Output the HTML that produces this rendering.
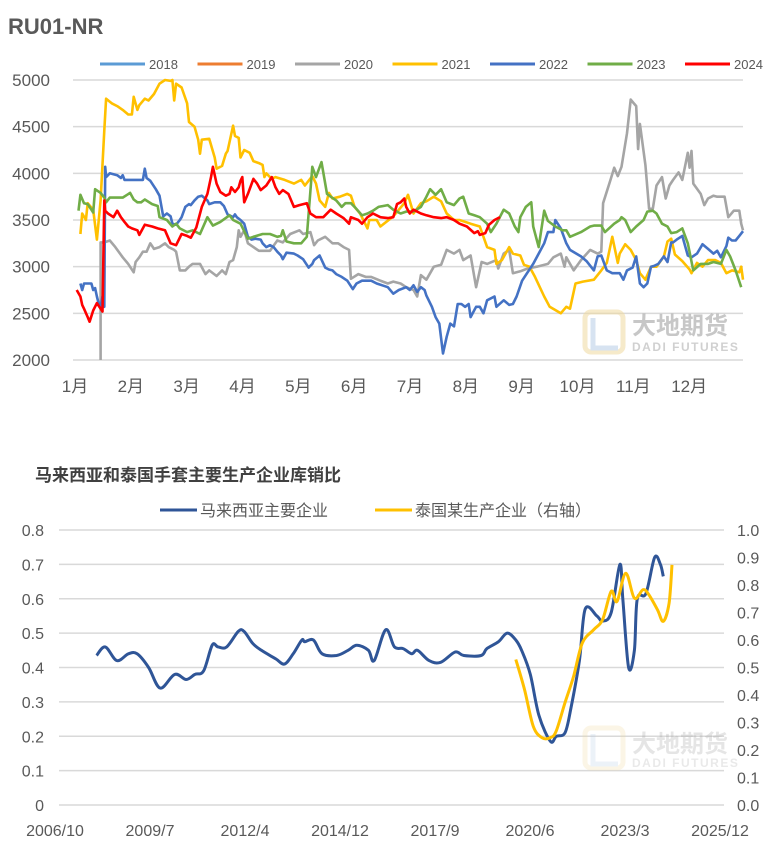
<!DOCTYPE html>
<html><head><meta charset="utf-8">
<style>
html,body{margin:0;padding:0;background:#fff;}
body{width:767px;height:852px;overflow:hidden;font-family:"Liberation Sans","Noto Sans CJK SC",sans-serif;}
svg text{font-family:"Liberation Sans","Noto Sans CJK SC",sans-serif;}
</style></head>
<body>
<svg id="c" width="767" height="852" viewBox="0 0 767 852" xmlns="http://www.w3.org/2000/svg">
<text x="8" y="34" font-size="22" font-weight="bold" fill="#595959">RU01-NR</text>
<g id="topGrid"></g>
<g id="topYAxis"></g>
<g id="topXAxis"></g>
<g id="wm1" opacity="0.55">
  <rect x="585" y="312" width="38" height="40" rx="6" fill="none" stroke="#f0d9a0" stroke-width="5"/>
  <path d="M593 318 L593 348 L618 348" fill="none" stroke="#b8cde6" stroke-width="5"/>
  <text x="632" y="334" font-size="24" font-weight="bold" fill="#9a9a9a">大地期货</text>
  <text x="632" y="351" font-size="12" font-weight="bold" fill="#aaaaaa" letter-spacing="1.5">DADI FUTURES</text>
</g>
<g id="topSeries"></g>
<g id="topLegend"></g>

<text x="35" y="481" font-size="17" font-weight="bold" fill="#404040">马来西亚和泰国手套主要生产企业库销比</text>
<g id="botGrid"></g>
<g id="botAxes"></g>
<g id="wm2" opacity="0.25">
  <rect x="585" y="728" width="38" height="40" rx="6" fill="none" stroke="#f0d9a0" stroke-width="5"/>
  <path d="M593 734 L593 764 L618 764" fill="none" stroke="#b8cde6" stroke-width="5"/>
  <text x="632" y="752" font-size="24" font-weight="bold" fill="#9a9a9a">大地期货</text>
  <text x="632" y="767" font-size="12" font-weight="bold" fill="#aaaaaa" letter-spacing="1.5">DADI FUTURES</text>
</g>
<g id="botSeries"></g>
<g id="botLegend">
  <line x1="160" y1="510" x2="197" y2="510" stroke="#2f5597" stroke-width="3"/>
  <text x="200" y="516" font-size="16" fill="#595959">马来西亚主要企业</text>
  <line x1="375" y1="510" x2="412" y2="510" stroke="#ffc000" stroke-width="3"/>
  <text x="415" y="516" font-size="16" fill="#595959">泰国某生产企业（右轴）</text>
</g>
</svg>
<script>
// ===== Top chart data =====
const topYTicks = [2000, 2500, 3000, 3500, 4000, 4500, 5000];
const topMonths = ["1月","2月","3月","4月","5月","6月","7月","8月","9月","10月","11月","12月"];
const topYears = ["2018","2019","2020","2021","2022","2023","2024"];
const topColors = ["#5b9bd5","#ed7d31","#a5a5a5","#ffc000","#4472c4","#70ad47","#ff0000"];
const d2020 = [15,15,17,20,23,27,30,33,34,36,38,40,42,44,47,50,52,55,56,58,61,63,65,69,72,74,78,81,83,85,87,89,90,91,93,95,98,101,104,107,111,114,118,123,125,129,131,133,137,141,144,147,150,151,155,159,162,167,171,174,178,181,185,187,189,192,196,200,203,207,210,212,216,219,221,222,225,230,231,234,237,239,243,247,252,258,261,265,267,268,272,276,281,285,287,288,292,294,296,298,301,303,306,307,308,311,313,315,317,320,322,324,326,329,331,334,335,336,337,341,343,345,348,350,352,354,356,359,362,363,364];
const v2020 = [2000,3260,3260,3280,3210,3100,3030,2940,3050,3100,3160,3160,3250,3190,3210,3250,3210,3180,3160,2960,2960,3000,3030,3030,2920,2960,2900,2960,2920,3050,3070,3210,3390,3320,3390,3250,3210,3170,3170,3170,3280,3260,3350,3390,3350,3370,3230,3280,3320,3250,3250,3210,3180,2870,2920,2890,2890,2850,2820,2840,2820,2780,2750,2680,2910,2860,3000,3020,3180,3140,3180,3070,3120,2780,2960,3050,3030,3070,2980,3140,3180,2930,2950,2980,3000,3030,3100,3140,3000,3100,2960,3070,3180,3140,3160,3680,3930,4060,3970,4070,4430,4790,4720,4260,4530,4090,3620,3620,3870,3960,3730,3870,3930,4010,3930,4220,4060,4240,3890,3780,3660,3730,3760,3750,3750,3750,3530,3600,3600,3460,3390];
const d2021 = [4,5,7,8,11,13,15,17,18,21,24,27,30,32,33,35,36,39,41,44,47,50,53,54,55,56,59,62,63,66,68,69,70,74,77,78,81,83,84,87,88,90,91,93,96,98,101,103,104,105,107,109,110,115,120,124,126,130,132,134,137,139,141,145,149,151,153,156,160,161,165,167,174,180,182,185,189,192,196,200,203,207,210,216,221,225,229,230,233,237,239,243,245,248,251,256,259,265,268,270,273,277,283,287,290,293,296,297,300,303,306,308,311,314,317,321,323,325,327,331,335,336,339,342,345,349,352,355,358,362,363,364];
const v2021 = [3350,3570,3500,3680,3610,3290,3710,4460,4800,4750,4720,4680,4630,4630,4820,4680,4730,4800,4780,4850,4960,5000,4990,5000,4780,4960,4920,4750,4550,4500,4360,4210,4360,4370,4170,4050,4080,4210,4240,4510,4400,4380,4170,4250,4220,4130,4110,4090,3960,4000,3960,3950,3960,3930,3890,3930,3870,3970,3890,3710,3640,3790,3730,3750,3780,3760,3640,3570,3410,3500,3500,3430,3540,3680,3770,3570,3680,3700,3750,3700,3570,3500,3500,3460,3430,3210,3180,3030,3070,3210,3140,3120,3020,3000,2890,2680,2570,2500,2570,2550,2820,2840,2860,2960,3040,3320,3040,3140,3240,3180,3070,2930,2860,3000,3000,3110,3270,3300,3130,3060,2970,2930,3040,3000,3070,3070,3040,2930,2960,2940,3000,2860];
const d2022 = [4,5,6,10,11,12,13,14,15,16,17,17.5,18,20,24,26,27,28,33,38,39,40,42,45,47,49,51,53,54,56,58,59,61,63,64,66,68,70,73,74,77,80,82,84,87,88,89,91,93,95,97,99,102,103,105,107,109,111,113,114,116,120,122,125,128,130,131,134,137,139,141,143,146,149,152,154,157,160,162,165,168,171,174,177,181,183,185,187,189,191,192,195,197,199,201,203,205,207,209,211,213,215,216,219,221,223,225,229,230,234,237,239,241,244,247,250,253,256,258,261,262,265,268,270,276,279,283,285,287,290,293,297,299,301,304,306,308,310,312,314,316,318,321,323,325,326,328,331,334,336,339,342,345,348,350,352,355,356,358,360,362,364];
const v2022 = [2820,2750,2820,2820,2750,2770,2680,2600,2570,2680,2570,4070,3960,4000,3980,3950,3980,3930,3930,3930,4050,3950,3920,3830,3760,3540,3570,3540,3460,3450,3500,3530,3640,3670,3660,3710,3750,3760,3710,3670,3690,3690,3650,3560,3530,3560,3530,3500,3460,3320,3290,3300,3290,3250,3210,3230,3210,3160,3120,3080,3150,3140,3120,3080,2990,3030,3070,3120,2990,2970,2960,2920,2890,2850,2760,2820,2850,2850,2850,2820,2800,2780,2710,2750,2780,2750,2800,2730,2780,2750,2690,2570,2460,2390,2070,2250,2390,2360,2600,2600,2570,2600,2460,2570,2570,2500,2640,2680,2570,2640,2590,2600,2680,2850,2940,3030,3140,3250,3370,3370,3500,3410,3250,3180,3110,3060,2960,3110,3120,2960,2930,2930,2860,2960,2990,3110,2820,2780,2820,3000,3010,3030,3110,3050,3260,3260,3290,3330,3120,3100,3140,3240,3190,3140,3170,3100,3220,3310,3280,3280,3330,3380];
const d2023 = [3,4,6,8,11,12,15,17,18,20,24,27,31,33,35,37,39,43,46,47,51,54,56,58,62,65,69,73,76,80,85,87,91,95,98,103,107,111,113,114,116,120,124,127,130,132,135,138,140,143,146,148,151,153,157,160,163,166,171,174,178,181,185,189,192,194,197,200,203,207,210,212,215,218,221,225,227,230,234,237,240,242,243,246,249,250,253,256,258,262,266,268,270,276,281,283,287,289,294,297,298,300,303,306,310,312,315,317,320,323,325,328,331,334,337,341,345,348,352,355,357,360,363];
const v2023 = [3600,3770,3680,3670,3580,3830,3790,3740,3690,3740,3740,3740,3790,3720,3690,3690,3720,3670,3650,3530,3500,3430,3460,3410,3370,3390,3350,3530,3440,3480,3550,3500,3460,3300,3320,3350,3350,3320,3330,3390,3270,3250,3250,3320,4070,3960,4120,3780,3750,3710,3640,3680,3680,3640,3550,3570,3600,3640,3660,3610,3570,3590,3590,3640,3750,3830,3770,3830,3690,3660,3730,3750,3570,3550,3530,3460,3370,3460,3610,3570,3430,3370,3530,3640,3690,3430,3210,3600,3490,3430,3390,3390,3320,3370,3430,3440,3440,3370,3460,3500,3530,3500,3370,3430,3500,3590,3600,3570,3460,3430,3360,3370,3410,3250,2960,3030,3030,3050,3030,3180,3110,2960,2780];
const d2024 = [2,4,5,6,8,9,11,13,15,16,17,17.5,19,22,24,26,28,30,32,35,36,39,43,46,50,53,56,59,62,64,67,70,73,75,76,78,80,83,85,86,88,90,91,92,93,95,98,100,102,105,108,110,112,114,117,120,123,127,129,132,136,140,143,147,150,151,155,157,160,163,167,171,174,176,178,180,181,183,185,189,192,196,200,203,207,210,214,218,220,221,224,226,229,232];
const v2024 = [2750,2680,2590,2550,2460,2410,2530,2610,2550,2520,3710,3600,3570,3530,3600,3530,3480,3430,3410,3390,3340,3450,3430,3410,3390,3250,3230,3350,3330,3310,3420,3640,3780,3960,4070,3890,3800,3760,3780,3850,3800,3850,3920,3960,3690,3780,3940,3890,3820,3870,3960,3850,3780,3820,3780,3640,3660,3680,3570,3530,3530,3610,3570,3520,3460,3530,3500,3460,3530,3570,3530,3520,3530,3670,3690,3730,3640,3570,3610,3570,3550,3530,3520,3530,3500,3460,3430,3360,3380,3340,3360,3450,3500,3530];

// ===== Bottom chart data =====
const botLeftTicks = ["0","0.1","0.2","0.3","0.4","0.5","0.6","0.7","0.8"];
const botRightTicks = ["0.0","0.1","0.2","0.3","0.4","0.5","0.6","0.7","0.8","0.9","1.0"];
const botXLabels = ["2006/10","2009/7","2012/4","2014/12","2017/9","2020/6","2023/3","2025/12"];
// months since 2006/10
const malMonths = [13,16,20,24,27,31,35,40,44,47,50,53,55,58,62,64,67,70,75,78,81,84,85,88,91,96,100,103,107,109,113,116,119,122,124,128,132,137,140,146,148,152,155,158,160,163,166,170,172,175,177,180,182,186,188,191,194,195,197,199,200,203,206,208,209];
const malValues = [0.435,0.46,0.42,0.44,0.44,0.40,0.34,0.38,0.365,0.38,0.39,0.465,0.46,0.46,0.505,0.505,0.47,0.45,0.425,0.41,0.44,0.48,0.475,0.48,0.44,0.435,0.45,0.465,0.45,0.42,0.51,0.46,0.455,0.44,0.45,0.42,0.415,0.445,0.435,0.435,0.455,0.475,0.50,0.48,0.45,0.38,0.26,0.185,0.20,0.21,0.28,0.42,0.57,0.55,0.535,0.56,0.70,0.60,0.40,0.45,0.60,0.615,0.72,0.70,0.665];
const thaiMonths = [158,161,164,167,170,172,175,178,181,185,188,191,193,196,199,202,204,207,209,211,212];
const thaiValues = [0.529,0.42,0.287,0.245,0.245,0.27,0.372,0.469,0.589,0.638,0.674,0.777,0.74,0.843,0.752,0.783,0.765,0.71,0.668,0.734,0.873];

const NS="http://www.w3.org/2000/svg";
function mk(tag, attrs, parent){const e=document.createElementNS(NS,tag);for(const k in attrs)e.setAttribute(k,attrs[k]);parent.appendChild(e);return e;}

// ---- Top axes ----
const tX0=73, tX1=743, tY0=360, tY1=80;
const tx = d => tX0 + d/364*(tX1-tX0);
const ty = v => tY0 - (v-2000)/3000*(tY0-tY1);
const gTop=document.getElementById('topGrid'), yTop=document.getElementById('topYAxis'), xTop=document.getElementById('topXAxis');
topYTicks.forEach(v=>{
  const l=mk('line',{x1:tX0,x2:tX1,y1:ty(v),y2:ty(v),stroke:'#d9d9d9','stroke-width':1.5},gTop);
  
  
  const t=mk('text',{x:50,y:ty(v)+6,'text-anchor':'end','font-size':17,fill:'#595959'},yTop);
  t.textContent=v;
  
  
});
topMonths.forEach((m,i)=>{
  const t=mk('text',{x:tx(i*364/12)+2,y:392,'text-anchor':'middle','font-size':17,fill:'#595959'},xTop);
  t.textContent=m;
  
  
});
const sTop=document.getElementById('topSeries');
const topData=[[null,null],[null,null],[d2020,v2020],[d2021,v2021],[d2022,v2022],[d2023,v2023],[d2024,v2024]];
[2,3,4,5,6].forEach(i=>{
  const [d,v]=topData[i];
  const pts=d.map((x,j)=>tx(x).toFixed(1)+','+ty(v[j]).toFixed(1)).join(' ');
  const p=mk('polyline',{points:pts,fill:'none',stroke:topColors[i],'stroke-width':2.6,'stroke-linejoin':'round'},sTop);
  
  
});
const lgTop=document.getElementById('topLegend');
topYears.forEach((y,i)=>{
  const x=100+i*97.5;
  const l=mk('line',{x1:x,x2:x+45,y1:64,y2:64,stroke:topColors[i],'stroke-width':3},lgTop);
  
  
  const t=mk('text',{x:x+49,y:69,'font-size':13,fill:'#595959'},lgTop);
  t.textContent=y;
  
  
});

// ---- Bottom axes ----
const bX0=59, bX1=724, bY0=805, bY1=530;
const bx = m => bX0 + m/230*(bX1-bX0);
const byL = v => bY0 - v/0.8*(bY0-bY1);
const byR = v => bY0 - v/1.0*(bY0-bY1);
const gB=document.getElementById('botGrid'), aB=document.getElementById('botAxes');
botLeftTicks.forEach((s,i)=>{
  const y=byL(i*0.1);
  const l=mk('line',{x1:bX0,x2:bX1,y1:y,y2:y,stroke:'#d9d9d9','stroke-width':1.5},gB);
  
  
  const t=mk('text',{x:44,y:y+6,'text-anchor':'end','font-size':16,fill:'#595959'},aB);
  t.textContent=s;
  
  
});
botRightTicks.forEach((s,i)=>{
  const t=mk('text',{x:737,y:byR(i*0.1)+6,'font-size':16,fill:'#595959'},aB);
  t.textContent=s;
  
  
});
botXLabels.forEach((s,i)=>{
  const t=mk('text',{x:bx(i*230/7)-4,y:836,'text-anchor':'middle','font-size':16,fill:'#595959'},aB);
  t.textContent=s;
  
  
});
function smooth(pts){
  let d='M'+pts[0][0].toFixed(1)+','+pts[0][1].toFixed(1);
  for(let i=0;i<pts.length-1;i++){
    const p0=pts[i-1]||pts[i],p1=pts[i],p2=pts[i+1],p3=pts[i+2]||p2;
    const c1=[p1[0]+(p2[0]-p0[0])/6,p1[1]+(p2[1]-p0[1])/6];
    const c2=[p2[0]-(p3[0]-p1[0])/6,p2[1]-(p3[1]-p1[1])/6];
    d+=' C'+c1.map(n=>n.toFixed(1)).join(',')+' '+c2.map(n=>n.toFixed(1)).join(',')+' '+p2[0].toFixed(1)+','+p2[1].toFixed(1);
  }
  return d;
}
const sB=document.getElementById('botSeries');
const pm=mk('path',{d:smooth(malMonths.map((m,i)=>[bx(m),byL(malValues[i])])),fill:'none',stroke:'#2f5597','stroke-width':3},sB);


const pt=mk('path',{d:smooth(thaiMonths.map((m,i)=>[bx(m),byR(thaiValues[i])])),fill:'none',stroke:'#ffc000','stroke-width':3},sB);


</script>
</body></html>
